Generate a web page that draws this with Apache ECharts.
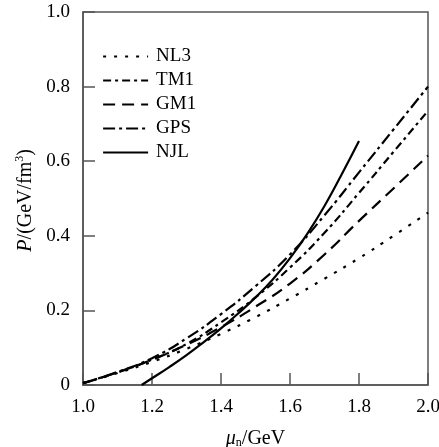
<!DOCTYPE html>
<html>
<head>
<meta charset="utf-8">
<script src="https://cdn.jsdelivr.net/npm/echarts@6/dist/echarts.min.js"></script>
<style>html,body{margin:0;padding:0;background:#fff}#c{width:439px;height:447px}</style>
</head>
<body>
<div id="c"></div>
<script>
const seriesNames = ['NL3', 'TM1', 'GM1', 'GPS', 'NJL'];
const mu = [1.0, 1.1, 1.2, 1.3, 1.4, 1.5, 1.6, 1.7, 1.8, 1.9, 2.0];
const NL3 = [0.005, 0.032, 0.062, 0.097, 0.137, 0.182, 0.232, 0.285, 0.340, 0.400, 0.462];
const TM1 = [0.005, 0.034, 0.068, 0.110, 0.168, 0.235, 0.315, 0.408, 0.515, 0.625, 0.735];
const GM1 = [0.005, 0.034, 0.068, 0.108, 0.155, 0.210, 0.272, 0.350, 0.440, 0.527, 0.615];
const GPS = [0.005, 0.035, 0.072, 0.125, 0.190, 0.265, 0.350, 0.455, 0.570, 0.685, 0.800];
const muNJL = [1.17, 1.2, 1.25, 1.3, 1.35, 1.4, 1.45, 1.5, 1.55, 1.6, 1.65, 1.7, 1.75, 1.8];
const NJL = [0.0, 0.018, 0.048, 0.080, 0.115, 0.152, 0.192, 0.235, 0.283, 0.340, 0.405, 0.480, 0.565, 0.654];
const xTicks = [1.0, 1.2, 1.4, 1.6, 1.8, 2.0];
const yTicks = [0, 0.2, 0.4, 0.6, 0.8, 1.0];

const FONT = 'Liberation Serif';
const FS = 19;
const pair = (xs, ys) => xs.map((x, i) => [x, ys[i]]);
const dashes = {
  NL3: [3, 8],
  TM1: [8, 4, 3, 4],
  GM1: [12, 7],
  GPS: [12, 4, 3, 4],
  NJL: 'solid'
};
const dataMap = {
  NL3: pair(mu, NL3), TM1: pair(mu, TM1), GM1: pair(mu, GM1),
  GPS: pair(mu, GPS), NJL: pair(muNJL, NJL)
};

const chart = echarts.init(document.getElementById('c'));
chart.setOption({
  animation: false,
  backgroundColor: '#fff',
  textStyle: { fontFamily: FONT, color: '#000' },
  grid: { left: 83, right: 11, top: 12, bottom: 62, containLabel: false, outerBoundsMode: 'none',
    show: true, borderColor: '#555', borderWidth: 1.5, backgroundColor: 'transparent' },
  legend: {
    orient: 'vertical', left: 102, top: 47, padding: 0,
    itemWidth: 45, itemHeight: 14, itemGap: 5,
    data: seriesNames,
    itemStyle: { opacity: 0 },
    lineStyle: { width: 2.2 },
    textStyle: { fontFamily: FONT, fontSize: FS, color: '#000', padding: [0, 0, 0, 3] }
  },
  xAxis: {
    type: 'value', min: 1.0, max: 2.0, interval: 0.2,
    axisLine: { lineStyle: { color: '#555', width: 1.5 } },
    axisTick: { inside: true, length: 12, lineStyle: { color: '#555', width: 1.5 } },
    splitLine: { show: false },
    axisLabel: { fontFamily: FONT, fontSize: FS, color: '#000', margin: 13,
      formatter: v => xTicks.some(t => Math.abs(t - v) < 1e-6) ? v.toFixed(1) : '' },
    name: '{i|μ}{sub|n}{n|/GeV}', nameLocation: 'middle', nameGap: 42,
    nameTextStyle: {
      rich: {
        i: { fontFamily: FONT, fontStyle: 'italic', fontSize: 20, color: '#000', verticalAlign: 'bottom', lineHeight: 22 },
        sub: { fontFamily: FONT, fontSize: 12, color: '#000', verticalAlign: 'bottom', lineHeight: 16 },
        n: { fontFamily: FONT, fontSize: 20, color: '#000', verticalAlign: 'bottom', lineHeight: 22 }
      }
    }
  },
  yAxis: {
    type: 'value', min: 0, max: 1.0, interval: 0.2,
    axisLine: { lineStyle: { color: '#555', width: 1.5 } },
    axisTick: { inside: true, length: 12, lineStyle: { color: '#555', width: 1.5 } },
    splitLine: { show: false },
    axisLabel: { fontFamily: FONT, fontSize: FS, color: '#000', margin: 13,
      formatter: v => Math.abs(v) < 1e-9 ? '0' : (yTicks.some(t => Math.abs(t - v) < 1e-6) ? v.toFixed(1) : '') }
  },
  graphic: [{
    type: 'text', left: 14, top: 149, rotation: Math.PI / 2,
    style: {
      text: '{i|P}{n|/(GeV/fm}{sup|3}{n|)}',
      rich: {
        i: { fontFamily: FONT, fontStyle: 'italic', fontSize: 20, fill: '#000', verticalAlign: 'bottom', lineHeight: 22 },
        n: { fontFamily: FONT, fontSize: 20, fill: '#000', verticalAlign: 'bottom', lineHeight: 22 },
        sup: { fontFamily: FONT, fontSize: 12, fill: '#000', verticalAlign: 'top', lineHeight: 14 }
      }
    }
  }],
  series: seriesNames.map(n => ({
    name: n, type: 'line', data: dataMap[n], smooth: true, symbol: 'none',
    lineStyle: { color: '#000', width: 2.2, type: dashes[n] },
    itemStyle: { color: '#000' }
  }))
});
</script>
</body>
</html>
